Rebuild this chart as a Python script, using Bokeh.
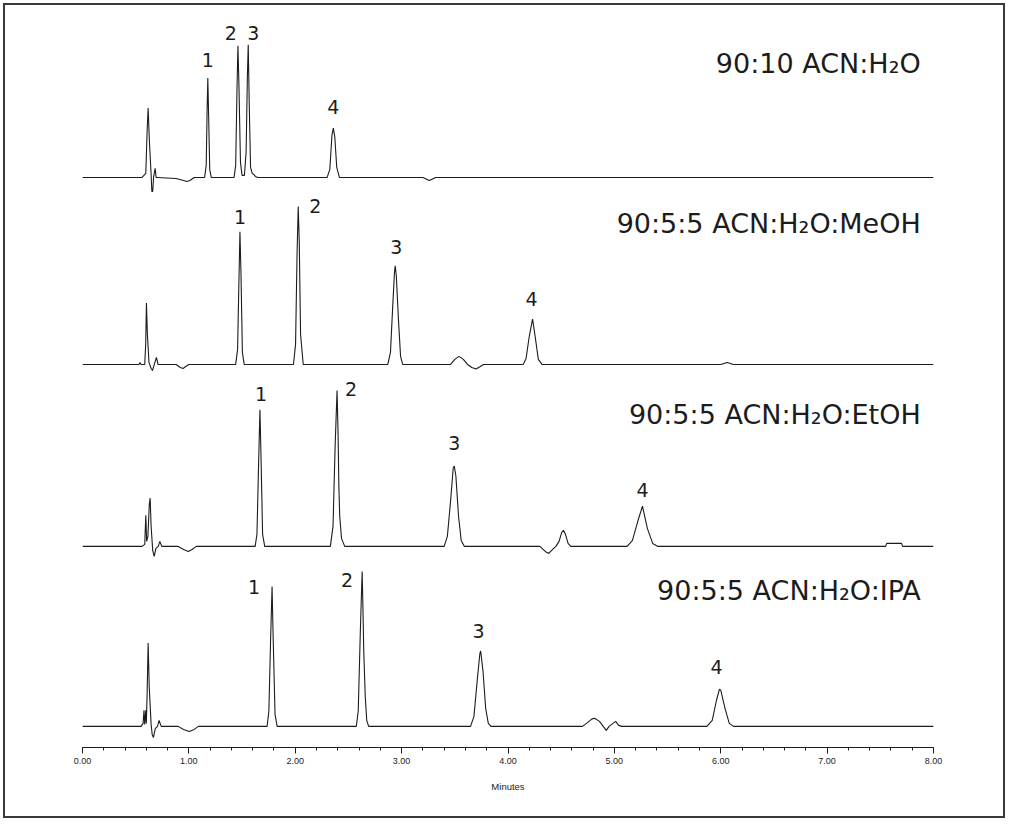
from bokeh.plotting import figure
from bokeh.models import Range1d, SingleIntervalTicker, NumeralTickFormatter, ColumnDataSource
from bokeh.core.properties import value
from bokeh.embed import file_html
from bokeh.resources import INLINE

# ---------------- data ----------------
TIME_RANGE = [0.0, 8.0]
X_LABEL = "Minutes"
TRACE_NAMES = ["90:10 ACN:H\u2082O", "90:5:5 ACN:H\u2082O:MeOH",
               "90:5:5 ACN:H\u2082O:EtOH", "90:5:5 ACN:H\u2082O:IPA"]
TRACE_OFFSETS = [567, 381, 200, 21]          # baseline of each stacked trace
PEAK_NAMES = ["1", "2", "3", "4"]

# (time in minutes, detector signal above baseline)
T1_POINTS = [(0.00, 0), (0.30, 0), (0.56, 0), (0.595, 4), (0.607, 45), (0.617, 69), (0.628, 38),
             (0.645, 3), (0.652, -14), (0.660, -14), (0.668, 0), (0.683, 9), (0.692, 0), (0.70, 0),
             (0.88, -1), (0.95, -3), (0.98, -4), (1.01, -3), (1.05, 0), (1.148, 0), (1.163, 12),
             (1.172, 70), (1.178, 99), (1.186, 60), (1.196, 8), (1.21, 0), (1.425, 0), (1.44, 12),
             (1.452, 85), (1.461, 131), (1.47, 95), (1.485, 15), (1.50, 2), (1.522, 2), (1.538, 25),
             (1.55, 100), (1.558, 132), (1.568, 70), (1.58, 10), (1.595, 4), (1.61, 3), (1.625, 1),
             (1.65, 0), (2.30, 0), (2.325, 8), (2.345, 42), (2.358, 49), (2.372, 40), (2.39, 10),
             (2.415, 0), (3.20, 0), (3.26, -3), (3.32, 0), (8.00, 0)]
T2_POINTS = [(0.00, 0), (0.53, 0), (0.54, 2), (0.55, 0), (0.585, 0), (0.594, 20), (0.601, 61),
             (0.610, 30), (0.625, 2), (0.645, -4), (0.658, -6), (0.675, 0), (0.695, 7), (0.71, 0),
             (0.88, 0), (0.92, -3), (0.945, -4), (0.97, -2), (1.00, 0), (1.44, 0), (1.458, 15),
             (1.47, 80), (1.48, 132), (1.49, 90), (1.503, 12), (1.52, 0), (1.983, 0), (2.003, 20),
             (2.017, 110), (2.028, 157), (2.038, 120), (2.05, 30), (2.075, 0), (2.87, 0),
             (2.895, 12), (2.915, 55), (2.933, 92), (2.94, 98), (2.95, 88), (2.97, 45), (2.99, 8),
             (3.01, 0), (3.46, 0), (3.50, 5), (3.539, 8), (3.58, 5), (3.62, 0), (3.66, -3),
             (3.70, -4.5), (3.74, -2), (3.77, 0), (4.143, 0), (4.17, 6), (4.20, 28), (4.231, 45),
             (4.255, 28), (4.285, 5), (4.32, 0), (6.00, 0), (6.06, 2), (6.12, 0), (8.00, 0)]
T3_POINTS = [(0.00, 0), (0.56, 0), (0.585, 2), (0.595, 31), (0.603, 5), (0.615, 10), (0.628, 42),
             (0.636, 48), (0.645, 20), (0.66, -4), (0.674, -10), (0.69, -2), (0.712, 0), (0.727, 5),
             (0.745, 0), (0.90, 0), (0.95, -3), (0.995, -5), (1.03, -3), (1.07, 0), (1.623, 0),
             (1.64, 12), (1.655, 80), (1.668, 136), (1.678, 90), (1.693, 12), (1.713, 0), (2.33, 0),
             (2.355, 20), (2.375, 100), (2.393, 155), (2.403, 110), (2.41, 60), (2.418, 30),
             (2.435, 8), (2.465, 0), (3.40, 0), (3.43, 10), (3.46, 45), (3.485, 78), (3.495, 80),
             (3.51, 70), (3.535, 30), (3.56, 6), (3.59, 0), (4.30, 0), (4.35, -5), (4.383, -7),
             (4.42, -3), (4.45, 0), (4.48, 5), (4.505, 14), (4.522, 16), (4.54, 12), (4.565, 3),
             (4.59, 0), (5.12, 0), (5.17, 6), (5.22, 25), (5.264, 40), (5.31, 18), (5.36, 3),
             (5.41, 0), (7.55, 0), (7.56, 3), (7.70, 3), (7.71, 0), (8.00, 0)]
T4_POINTS = [(0.00, 0), (0.55, 0), (0.57, 3), (0.578, 16), (0.585, 2), (0.595, 16), (0.600, 3),
             (0.607, 30), (0.617, 83), (0.627, 40), (0.645, 2), (0.655, -8), (0.667, -11),
             (0.685, -2), (0.705, 0), (0.72, 6), (0.74, 0), (0.90, 0), (0.95, -3), (1.004, -5),
             (1.05, -3), (1.09, 0), (1.735, 0), (1.752, 15), (1.768, 85), (1.782, 139), (1.792, 90),
             (1.81, 12), (1.83, 0), (2.574, 0), (2.592, 15), (2.612, 95), (2.629, 154), (2.636, 120),
             (2.644, 75), (2.658, 30), (2.672, 6), (2.69, 0), (3.648, 0), (3.68, 10), (3.71, 45),
             (3.735, 72), (3.743, 75), (3.765, 55), (3.79, 18), (3.815, 3), (3.84, 0), (4.70, 0),
             (4.75, 4), (4.79, 7.5), (4.814, 8), (4.86, 5), (4.895, 0), (4.924, -4), (4.95, 0),
             (4.975, 2), (5.012, 5), (5.04, 1), (5.07, 0), (5.87, 0), (5.92, 6), (5.96, 26),
             (5.988, 37), (6.00, 36), (6.04, 18), (6.08, 3), (6.12, 0), (8.00, 0)]
TRACE_POINTS = [T1_POINTS, T2_POINTS, T3_POINTS, T4_POINTS]

# retention time and height of the four labelled peaks of each trace
T1_PEAK_RT, T1_PEAK_H = [1.178, 1.461, 1.558, 2.358], [99, 131, 132, 49]
T2_PEAK_RT, T2_PEAK_H = [1.480, 2.028, 2.940, 4.231], [132, 157, 98, 45]
T3_PEAK_RT, T3_PEAK_H = [1.668, 2.393, 3.495, 5.264], [136, 155, 80, 40]
T4_PEAK_RT, T4_PEAK_H = [1.782, 2.629, 3.743, 5.988], [139, 154, 75, 37]
PEAK_RT = [T1_PEAK_RT, T2_PEAK_RT, T3_PEAK_RT, T4_PEAK_RT]
PEAK_H = [T1_PEAK_H, T2_PEAK_H, T3_PEAK_H, T4_PEAK_H]

# ---------------- styling / placement ----------------
LABEL_DX = [[0, -7, 5, 0], [0, 17, 1, -1], [1, 14, 0, 0], [-18, -15, -2, -3]]
LABEL_DY = [[-18, -13, -12, -21], [-15, -1, -19, -20], [-16, -2, -23, -16], [0, 8, -20, -22]]
TITLE_X = 7.88
TITLE_DY = [113, 140, 131, 135]
INK = "#1c1c1c"

p = figure(width=998, height=811,
           x_range=Range1d(*TIME_RANGE), y_range=Range1d(0, 738),
           output_backend="svg", toolbar_location=None, y_axis_location=None,
           min_border_left=77, min_border_right=74, min_border_top=0, min_border_bottom=73)
p.margin = (3, 3, 3, 3)
p.styles = {"border": "2px solid #3a3a3a", "box-sizing": "content-box"}
p.xgrid.visible = False
p.ygrid.visible = False
p.outline_line_color = None
p.background_fill_color = "white"
p.border_fill_color = "white"

for pts, off in zip(TRACE_POINTS, TRACE_OFFSETS):
    xs = [t for t, s in pts]
    ys = [off + s for t, s in pts]
    p.line(xs, ys, line_color=INK, line_width=1.1)

lab = dict(x=[], y=[], text=[], dx=[], dy=[])
for i in range(4):
    for j in range(4):
        lab["x"].append(PEAK_RT[i][j])
        lab["y"].append(TRACE_OFFSETS[i] + PEAK_H[i][j])
        lab["text"].append(PEAK_NAMES[j])
        lab["dx"].append(LABEL_DX[i][j])
        lab["dy"].append(LABEL_DY[i][j])
p.text(x="x", y="y", text="text", x_offset="dx", y_offset="dy", source=ColumnDataSource(lab),
       text_font=value("DejaVu Sans"), text_font_size=value("19px"), text_color=INK,
       text_align="center", text_baseline="middle")

titles = ColumnDataSource(dict(x=[TITLE_X] * 4,
                               y=[o + d for o, d in zip(TRACE_OFFSETS, TITLE_DY)],
                               text=TRACE_NAMES))
p.text(x="x", y="y", text="text", source=titles,
       text_font=value("DejaVu Sans"), text_font_size=value("27px"), text_color=INK,
       text_align="right", text_baseline="middle")

ax = p.xaxis[0]
ax.ticker = SingleIntervalTicker(interval=1, num_minor_ticks=5)
ax.formatter = NumeralTickFormatter(format="0.00")
ax.axis_label = X_LABEL
ax.axis_line_color = INK
ax.major_tick_line_color = INK
ax.minor_tick_line_color = INK
ax.major_tick_in = 0
ax.major_tick_out = 6
ax.minor_tick_in = 0
ax.minor_tick_out = 3
ax.major_label_standoff = 4
ax.axis_label_standoff = 14
ax.major_label_text_font = "Liberation Sans"
ax.major_label_text_font_size = "9px"
ax.major_label_text_color = INK
ax.axis_label_text_font = "Liberation Sans"
ax.axis_label_text_font_size = "9.5px"
ax.axis_label_text_font_style = "normal"
ax.axis_label_text_color = INK

open("out.html", "w").write(file_html(p, INLINE))
